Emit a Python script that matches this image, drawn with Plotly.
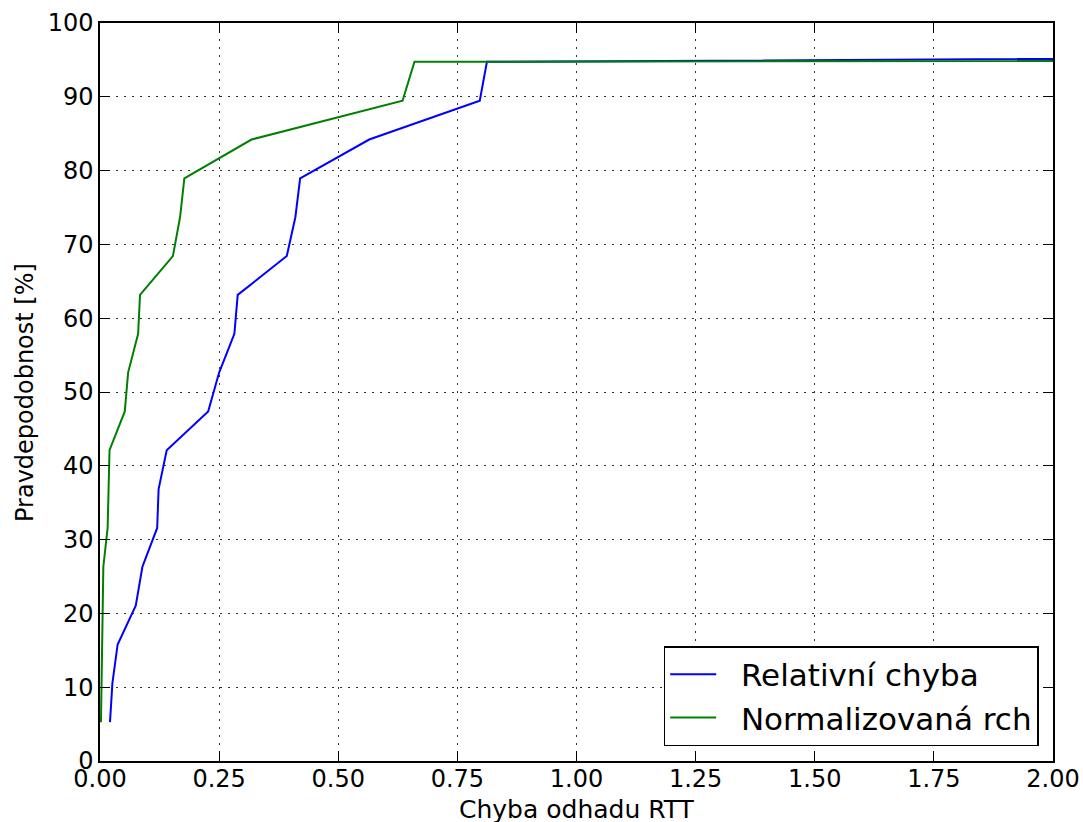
import plotly.graph_objects as go

# Relative error CDF (blue)
rel_x = [0.021, 0.026, 0.037, 0.075, 0.089, 0.120, 0.123, 0.140, 0.227, 0.250,
         0.282, 0.289, 0.392, 0.410, 0.420, 0.565, 0.797, 0.812, 16.5]
rel_y = [5.26, 10.53, 15.79, 21.05, 26.32, 31.58, 36.84, 42.11, 47.37, 52.63,
         57.89, 63.16, 68.42, 73.68, 78.95, 84.21, 89.47, 94.74, 100.0]

# Normalized error CDF (green)
norm_x = [0.002, 0.003, 0.004, 0.005, 0.007, 0.016, 0.018, 0.020, 0.052, 0.059,
          0.080, 0.084, 0.153, 0.168, 0.177, 0.318, 0.635, 0.660, 60.0]
norm_y = [5.26, 10.53, 15.79, 21.05, 26.32, 31.58, 36.84, 42.11, 47.37, 52.63,
          57.89, 63.16, 68.42, 73.68, 78.95, 84.21, 89.47, 94.74, 100.0]

x_ticks = [0.0, 0.25, 0.5, 0.75, 1.0, 1.25, 1.5, 1.75, 2.0]
x_tick_labels = ["0.00", "0.25", "0.50", "0.75", "1.00", "1.25", "1.50", "1.75", "2.00"]
y_ticks = list(range(0, 101, 10))

series_names = ["Relativní chyba", "Normalizovaná rch"]
x_title = "Chyba odhadu RTT"
y_title = "Pravdepodobnost [%]"

font = "DejaVu Sans"
pad = "\u00a0\u00a0"

fig = go.Figure()
fig.add_trace(go.Scatter(x=rel_x, y=rel_y, mode="lines", name=pad + series_names[0],
                         legendgroup="a",
                         line=dict(color="#0000ff", width=2)))
fig.add_trace(go.Scatter(x=norm_x, y=norm_y, mode="lines", name=pad + series_names[1],
                         legendgroup="b",
                         line=dict(color="#008000", width=2)))

axis_common = dict(
    showline=True, linecolor="black", linewidth=1.5, mirror="ticks",
    ticks="inside", ticklen=10, tickwidth=1, tickcolor="black",
    showgrid=True, gridcolor="#333333", griddash="2px,6px", gridwidth=1,
    zeroline=False, automargin=False,
    tickfont=dict(family=font, size=24, color="black"),
)

fig.update_xaxes(range=[0, 2], tickvals=x_ticks, ticktext=x_tick_labels,
                 ticklabelstandoff=-5, **axis_common)
fig.update_yaxes(range=[0, 100], tickvals=y_ticks, **axis_common)

fig.add_annotation(text=x_title, xref="paper", yref="paper", x=0.5, y=-0.066,
                   xanchor="center", yanchor="middle", showarrow=False,
                   font=dict(family=font, size=25, color="black"))
fig.add_annotation(text=y_title, xref="paper", yref="paper", x=-0.0787, y=0.5,
                   xanchor="center", yanchor="middle", showarrow=False, textangle=-90,
                   font=dict(family=font, size=24, color="black"))

fig.update_layout(
    width=1083, height=822,
    margin=dict(l=100, r=30, t=23, b=61),
    plot_bgcolor="white", paper_bgcolor="white",
    font=dict(family=font, color="black"),
    legend=dict(x=0.985, y=0.0203, xanchor="right", yanchor="bottom",
                bordercolor="black", borderwidth=1.5, bgcolor="white",
                font=dict(family=font, size=31, color="black"),
                itemwidth=46, tracegroupgap=0, traceorder="grouped"),
    showlegend=True,
)

fig.write_html("out.html")
